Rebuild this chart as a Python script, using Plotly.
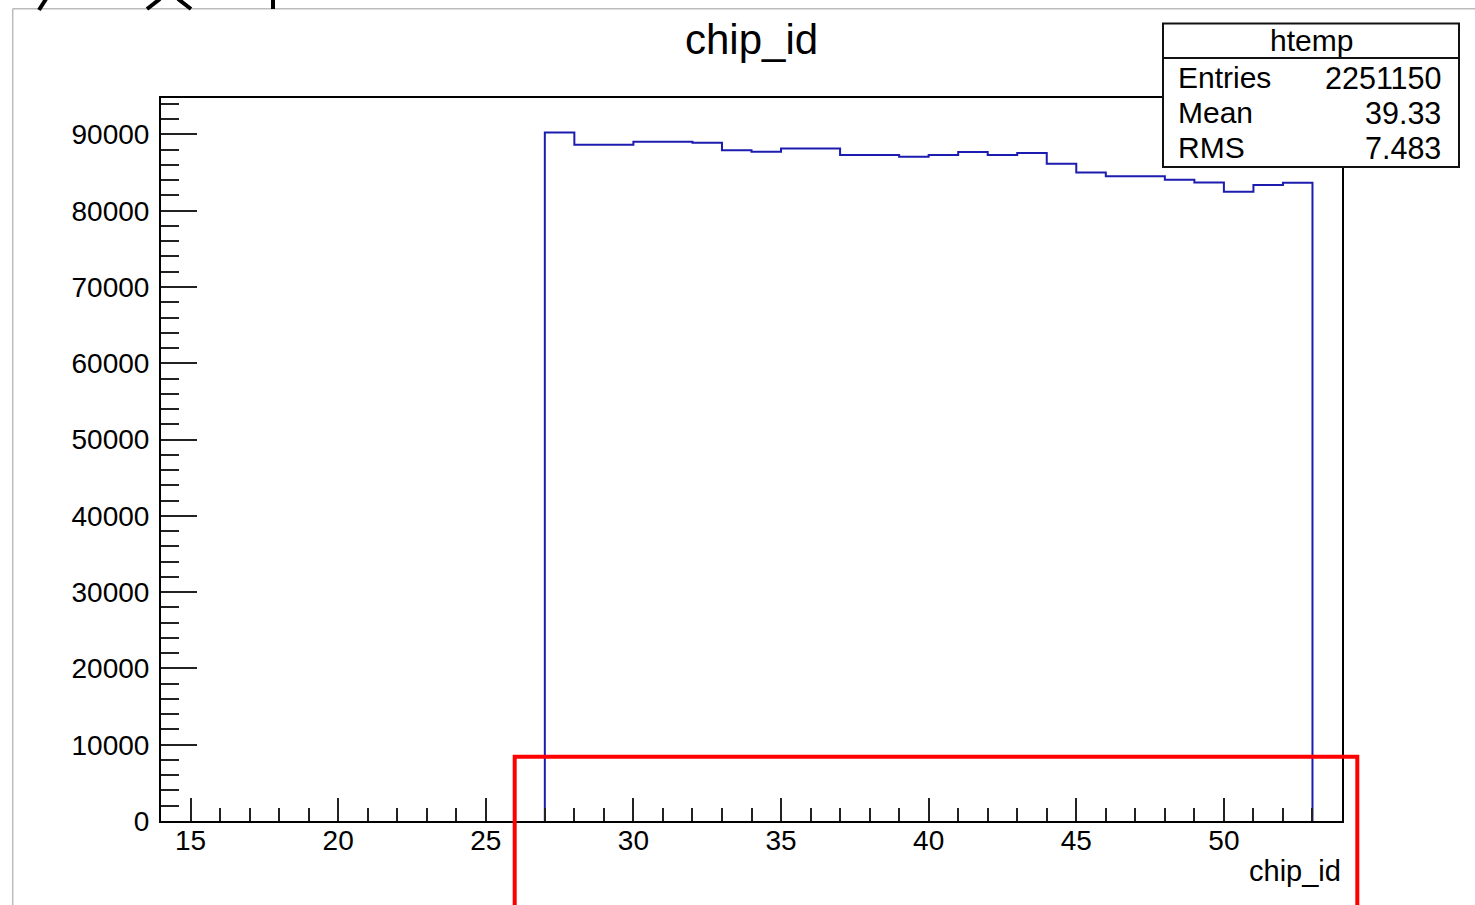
import plotly.graph_objects as go

# ---------------- data ----------------
bin_low_edges = [27, 28, 29, 30, 31, 32, 33, 34, 35, 36, 37, 38, 39,
                 40, 41, 42, 43, 44, 45, 46, 47, 48, 49, 50, 51, 52]
bin_width = 1
counts = [90260, 88640, 88640, 89030, 89030, 88900, 87940, 87720, 88160,
          88160, 87290, 87290, 87070, 87290, 87680, 87290, 87550, 86150,
          85020, 84530, 84530, 84050, 83710, 82480, 83360, 83660]

x_tick_vals = [15, 20, 25, 30, 35, 40, 45, 50]
x_range = [14, 54]

title_text = "chip_id"
x_title = "chip_id"
stats_name = "htemp"
stats_labels = ["Entries", "Mean", "RMS"]
stats_values = ["2251150", "39.33", "7.483"]

# ---------------- geometry ----------------
W, H = 1475, 905
ML, MR, MT, MB = 161, 133, 98, 84
PW, PH = W - ML - MR, H - MT - MB


def px(xp):
    return (xp - ML) / PW


def py(yp):
    return (H - MB - yp) / PH


FONT = "Liberation Sans, Arial, Helvetica, sans-serif"
HIST_COLOR = "#1c1cb0"

# step outline built from bin edges
xs = [bin_low_edges[0]]
ys = [0]
for lo, c in zip(bin_low_edges, counts):
    xs.append(lo)
    ys.append(c)
xs.append(bin_low_edges[-1] + bin_width)
ys.append(counts[-1])
xs.append(bin_low_edges[-1] + bin_width)
ys.append(0)

fig = go.Figure()
fig.add_trace(go.Scatter(x=xs, y=ys, mode="lines", line_shape="hv",
                         line=dict(color=HIST_COLOR, width=2),
                         hoverinfo="skip", showlegend=False))

y_max = max(counts) * 1.05

axis_common = dict(showline=True, linecolor="black", linewidth=2, mirror=True,
                   showgrid=False, zeroline=False, ticks="inside",
                   tickcolor="#222222", tickwidth=2,
                   tickfont=dict(family=FONT, size=28, color="black"))

fig.update_xaxes(range=x_range, tickvals=x_tick_vals, ticklen=23,
                 minor=dict(dtick=1, tick0=14, ticks="inside", ticklen=13,
                            tickwidth=2, tickcolor="#222222", showgrid=False),
                 ticklabelstandoff=-7,
                 **axis_common)
fig.update_yaxes(range=[0, y_max], dtick=10000, tick0=0, ticklen=36,
                 tickformat="d",
                 minor=dict(dtick=2000, tick0=0, ticks="inside", ticklen=18,
                            tickwidth=2, tickcolor="#222222", showgrid=False),
                 ticklabelstandoff=4,
                 **axis_common)

shapes = []
# light gray canvas frame
shapes.append(dict(type="line", xref="paper", yref="paper",
                   x0=px(12.7), y0=py(915), x1=px(12.7), y1=py(8.7),
                   line=dict(color="#bcbcbc", width=1.5), layer="below"))
shapes.append(dict(type="line", xref="paper", yref="paper",
                   x0=px(12.7), y0=py(8.7), x1=px(1480), y1=py(8.7),
                   line=dict(color="#bcbcbc", width=1.5), layer="below"))
# cropped black strokes at the very top
for (a, b, c, d) in [(39, 10, 46, -1), (147, 9, 160, -1), (191, 9, 178, -1),
                     (273, 9, 273, -1)]:
    shapes.append(dict(type="line", xref="paper", yref="paper",
                       x0=px(a), y0=py(b), x1=px(c), y1=py(d),
                       line=dict(color="black", width=4), layer="above"))
# stats box
shapes.append(dict(type="rect", xref="paper", yref="paper",
                   x0=px(1163), y0=py(167), x1=px(1459), y1=py(23.5),
                   line=dict(color="#111111", width=2), fillcolor="white",
                   layer="above"))
shapes.append(dict(type="line", xref="paper", yref="paper",
                   x0=px(1163), y0=py(58), x1=px(1459), y1=py(58),
                   line=dict(color="#111111", width=2), layer="above"))
# red highlight rectangle
shapes.append(dict(type="rect", xref="paper", yref="paper",
                   x0=px(514.7), y0=py(915), x1=px(1357.3), y1=py(756.7),
                   line=dict(color="#ff0000", width=4), fillcolor="rgba(0,0,0,0)",
                   layer="above"))

annotations = []
annotations.append(dict(text=title_text, xref="paper", yref="paper",
                        x=px(751), y=py(39), xanchor="center", yanchor="middle",
                        showarrow=False,
                        font=dict(family=FONT, size=42, color="black")))
annotations.append(dict(text=x_title, xref="paper", yref="paper",
                        x=px(1343), y=py(871), xanchor="right", yanchor="middle",
                        showarrow=False,
                        font=dict(family=FONT, size=29, color="black")))
annotations.append(dict(text=stats_name, xref="paper", yref="paper",
                        x=px(1311), y=py(40), xanchor="center", yanchor="middle",
                        showarrow=False,
                        font=dict(family=FONT, size=30, color="black")))
for i, (lab, val) in enumerate(zip(stats_labels, stats_values)):
    yc = 77.5 + 35 * i
    annotations.append(dict(text=lab, xref="paper", yref="paper",
                            x=px(1176), y=py(yc), xanchor="left", yanchor="middle",
                            showarrow=False,
                            font=dict(family=FONT, size=30, color="black")))
    annotations.append(dict(text=val, xref="paper", yref="paper",
                            x=px(1443), y=py(yc), xanchor="right", yanchor="middle",
                            showarrow=False,
                            font=dict(family=FONT, size=30.5, color="black")))

fig.update_layout(width=W, height=H, autosize=False,
                  margin=dict(l=ML, r=MR, t=MT, b=MB, pad=0),
                  paper_bgcolor="white", plot_bgcolor="white",
                  shapes=shapes, annotations=annotations,
                  font=dict(family=FONT, color="black"))

fig.write_html("out.html")
